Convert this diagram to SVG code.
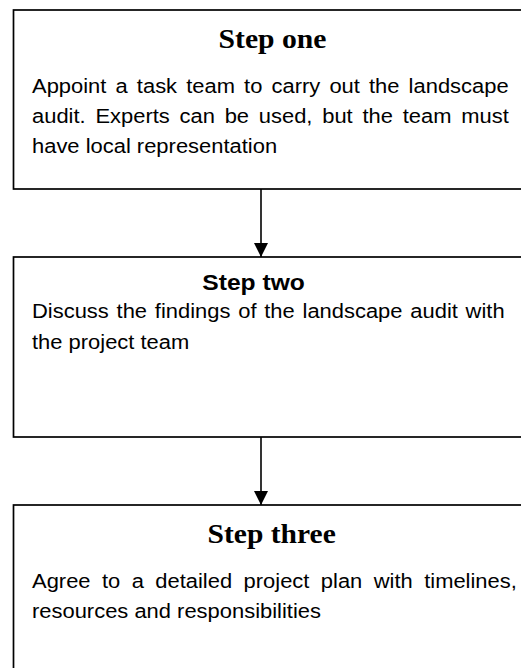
<svg xmlns="http://www.w3.org/2000/svg" width="521" height="668" viewBox="0 0 521 668">
  <defs>
    <style>
      .box { fill: #ffffff; stroke: #000000; stroke-width: 1.7; }
      .ttl { font-family: "Liberation Serif", "Times New Roman", serif; font-weight: bold; font-size: 28px; fill: #000; }
      .ttl2 { font-family: "Liberation Sans", Arial, sans-serif; font-weight: bold; font-size: 22px; fill: #000; }
      .body { font-family: "Liberation Sans", Arial, sans-serif; font-size: 21px; fill: #000; }
      .conn { stroke: #000; stroke-width: 1.6; fill: none; }
    </style>
    <marker id="ah" markerWidth="14" markerHeight="14" refX="14" refY="7" orient="auto" markerUnits="userSpaceOnUse">
      <path d="M0,0 L14,7 L0,14 z" fill="#000"/>
    </marker>
  </defs>
  <rect width="521" height="668" fill="#ffffff"/>

  <g id="step-one">
    <rect class="box" x="13.5" y="10" width="520" height="179"/>
    <text class="ttl" text-anchor="middle" transform="translate(272.5,48) scale(1.06,1)">Step one</text>
    <text class="body" word-spacing="2.9" transform="translate(32,93) scale(1.045,1)">Appoint a task team to carry out the landscape</text>
    <text class="body" word-spacing="3.5" transform="translate(32,123) scale(1.045,1)">audit. Experts can be used, but the team must</text>
    <text class="body" transform="translate(32,153) scale(1.045,1)">have local representation</text>
  </g>

  <g id="step-two">
    <rect class="box" x="13.5" y="257" width="520" height="180"/>
    <text class="ttl2" transform="translate(202.3,290) scale(1.12,1)">Step two</text>
    <text class="body" word-spacing="1.6" transform="translate(32,318) scale(1.045,1)">Discuss the findings of the landscape audit with</text>
    <text class="body" transform="translate(32,349) scale(1.045,1)">the project team</text>
  </g>

  <g id="step-three">
    <rect class="box" x="13.5" y="505" width="520" height="200"/>
    <text class="ttl" text-anchor="middle" transform="translate(271.7,543) scale(1.055,1)">Step three</text>
    <text class="body" word-spacing="5.1" transform="translate(32,588) scale(1.045,1)">Agree to a detailed project plan with timelines,</text>
    <text class="body" transform="translate(32,618) scale(1.045,1)">resources and responsibilities</text>
  </g>

  <g id="connectors">
    <line class="conn" x1="261" y1="189" x2="261" y2="257" marker-end="url(#ah)"/>
    <line class="conn" x1="261" y1="437" x2="261" y2="505" marker-end="url(#ah)"/>
  </g>
</svg>
